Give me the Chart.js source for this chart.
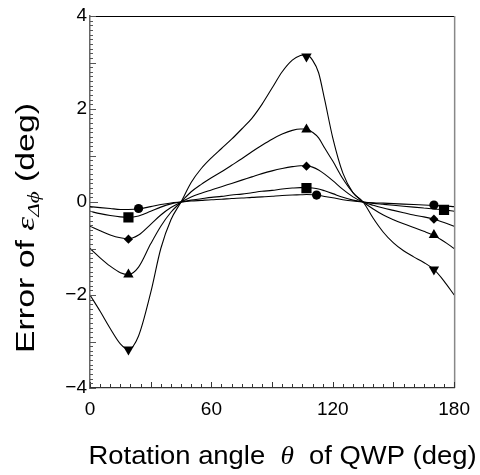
<!DOCTYPE html>
<html><head><meta charset="utf-8">
<script src="https://cdn.jsdelivr.net/npm/chart.js@4.4.1/dist/chart.umd.min.js"></script>
<style>html,body{margin:0;padding:0;background:#fff;}canvas{display:block;}</style>
</head><body>
<canvas id="c" width="480" height="475"></canvas>
<script>
// Rotation angle theta of QWP (deg)
const angles = [0,5,10,15,19,24,30,35,40,45,50,55,60,65,70,75,80,85,90,95,100,104,107,110,113,116,120,125,130,135,140,145,150,155,160,165,170,175,180];
// Error curves (deg)
const curveInvTri = [-2.0,-2.35,-2.72,-3.05,-3.17,-2.88,-1.95,-1.0,-0.38,0,0.42,0.72,0.95,1.15,1.35,1.57,1.8,2.1,2.45,2.8,3.05,3.15,3.17,3.05,2.78,2.2,1.38,0.62,0.2,0,-0.35,-0.65,-0.88,-1.05,-1.18,-1.3,-1.45,-1.7,-2.0];
const curveTri    = [-1.0,-1.2,-1.38,-1.52,-1.56,-1.4,-0.9,-0.52,-0.22,0,0.22,0.38,0.52,0.65,0.79,0.93,1.08,1.22,1.35,1.46,1.54,1.57,1.57,1.5,1.38,1.16,0.88,0.5,0.2,0,-0.15,-0.28,-0.38,-0.47,-0.55,-0.63,-0.72,-0.85,-1.0];
const curveDiamond= [-0.52,-0.62,-0.71,-0.77,-0.79,-0.71,-0.48,-0.28,-0.12,0,0.11,0.19,0.26,0.33,0.4,0.47,0.54,0.61,0.67,0.72,0.76,0.78,0.78,0.75,0.69,0.6,0.46,0.27,0.11,0,-0.07,-0.13,-0.18,-0.23,-0.28,-0.32,-0.37,-0.44,-0.52];
const curveSquare = [-0.2,-0.25,-0.29,-0.32,-0.33,-0.3,-0.2,-0.11,-0.04,0,0.04,0.07,0.1,0.12,0.15,0.17,0.2,0.23,0.25,0.28,0.3,0.31,0.31,0.3,0.28,0.24,0.18,0.1,0.04,0,-0.03,-0.05,-0.07,-0.09,-0.11,-0.13,-0.15,-0.17,-0.2];
const curveCircle = [-0.1,-0.12,-0.14,-0.16,-0.16,-0.15,-0.1,-0.055,-0.02,0,0.02,0.035,0.05,0.06,0.075,0.085,0.1,0.11,0.125,0.14,0.15,0.155,0.16,0.155,0.14,0.12,0.09,0.05,0.02,0,-0.015,-0.025,-0.035,-0.045,-0.055,-0.065,-0.075,-0.085,-0.1];
// Marker positions
const markAngles      = [19,107,170];
const invTriMarks     = [-3.17,3.13,-1.45];
const triMarks        = [-1.56,1.56,-0.71];
const diamondMarks    = [-0.8,0.77,-0.37];
const squareMarkAngles= [19,107,175];
const squareMarks     = [-0.33,0.3,-0.17];
const circleMarkAngles= [24,112,170];
const circleMarks     = [-0.14,0.15,-0.065];
// Tick labels
const xTickLabels = [0,60,120,180];
const yTickLabels = [-4,-2,0,2,4];

function pts(xs, ys){ return xs.map((x,i)=>({x:x, y:ys[i]})); }
function lineDs(ys){ return {type:'line', data:pts(angles, ys), borderColor:'#000', borderWidth:1.1, pointRadius:0, cubicInterpolationMode:'monotone', fill:false, order:2}; }
function markDs(xs, ys, style, r, rot){ return {type:'scatter', data:pts(xs, ys), pointStyle:style, pointRadius:r, pointHoverRadius:r, pointRotation:rot||0, backgroundColor:'#000', borderColor:'#000', borderWidth:0, showLine:false, order:0}; }

const SANS = '"Liberation Sans", Arial, sans-serif';
const SERIF = '"Liberation Serif", "DejaVu Serif", serif';

// draws mixed-style text centred on (0,0) of current transform, stretched to a target length
function drawSegments(ctx, segs, targetLen){
  let w = 0;
  segs.forEach(s=>{ ctx.font = s.f; s.w = ctx.measureText(s.t).width; w += s.w; });
  const k = targetLen / w;
  ctx.scale(k, 1);
  let cx = -w/2;
  segs.forEach(s=>{ ctx.font = s.f; ctx.fillText(s.t, cx, (s.dy||0)); cx += s.w; });
}

const decor = {
  id:'decor',
  afterDraw(chart){
    const ctx = chart.ctx, a = chart.chartArea, xs = chart.scales.x, ys = chart.scales.y;
    ctx.save();
    // frame top and right
    ctx.strokeStyle = '#000'; ctx.lineWidth = 1.2;
    ctx.beginPath(); ctx.moveTo(a.left, a.top+0.5); ctx.lineTo(a.right, a.top+0.5); ctx.stroke();
    ctx.strokeStyle = '#888'; ctx.lineWidth = 1.5;
    ctx.beginPath(); ctx.moveTo(a.right+0.5, a.top); ctx.lineTo(a.right+0.5, a.bottom); ctx.stroke();
    // x ticks (inward)
    ctx.strokeStyle = '#333'; ctx.lineWidth = 1;
    for (let v=0; v<=180; v+=5){
      const px = Math.round(xs.getPixelForValue(v)) + 0.5;
      const len = (v % 30 === 0) ? 6 : 4;
      ctx.beginPath(); ctx.moveTo(px, a.bottom); ctx.lineTo(px, a.bottom - len); ctx.stroke();
    }
    // y ticks (inward)
    ctx.strokeStyle = '#555';
    for (let i=-40; i<=40; i++){
      const py = Math.round(ys.getPixelForValue(i/10)) + 0.5;
      const len = i === 0 ? 8 : (i % 10 === 0 ? 6 : 3);
      ctx.beginPath(); ctx.moveTo(a.left, py); ctx.lineTo(a.left + len, py); ctx.stroke();
    }
    // axis titles
    ctx.fillStyle = '#000'; ctx.textBaseline = 'alphabetic';
    ctx.save();
    ctx.translate(282.5, 464);
    drawSegments(ctx, [
      {t:'Rotation angle  ', f:'25px '+SANS},
      {t:'\u03b8', f:'italic 25px '+SERIF},
      {t:'  of QWP (deg)', f:'25px '+SANS}
    ], 388);
    ctx.restore();
    ctx.save();
    ctx.translate(34, 228); ctx.rotate(-Math.PI/2);
    drawSegments(ctx, [
      {t:'Error of ', f:'25px '+SANS},
      {t:'\u03b5', f:'italic 26px '+SERIF},
      {t:'\u0394\u03d5', f:'italic 17px '+SERIF, dy:5},
      {t:' (deg)', f:'25px '+SANS}
    ], 250);
    ctx.restore();
    ctx.restore();
  }
};

new Chart(document.getElementById('c'), {
  data:{ datasets:[
    lineDs(curveInvTri), lineDs(curveTri), lineDs(curveDiamond), lineDs(curveSquare), lineDs(curveCircle),
    markDs(markAngles, invTriMarks, 'triangle', 6, 180),
    markDs(markAngles, triMarks, 'triangle', 6, 0),
    markDs(markAngles, diamondMarks, 'rectRot', 4.6, 0),
    markDs(squareMarkAngles, squareMarks, 'rect', 7.2, 0),
    markDs(circleMarkAngles, circleMarks, 'circle', 4.6, 0)
  ]},
  options:{
    responsive:false, animation:false, devicePixelRatio:1,
    layout:{padding:{top:16, right:18, left:0, bottom:0}},
    plugins:{legend:{display:false}, tooltip:{enabled:false}},
    events:[],
    scales:{
      x:{type:'linear', position:'bottom', min:0, max:180,
        afterFit(s){ s.height = 87; },
        afterBuildTicks(s){ s.ticks = xTickLabels.map(v=>({value:v})); },
        ticks:{font:{family:SANS, size:19}, color:'#000', padding:10, maxRotation:0, callback:v=>String(v)},
        grid:{display:false, drawTicks:false},
        border:{display:true, color:'#333', width:1.2}
      },
      y:{type:'linear', position:'left', min:-4, max:4,
        afterFit(s){ s.width = 90; },
        afterBuildTicks(s){ s.ticks = yTickLabels.map(v=>({value:v})); },
        ticks:{font:{family:SANS, size:19}, color:'#000', padding:3, callback:v=>(v<0?'\u2212'+Math.abs(v):String(v))},
        grid:{display:false, drawTicks:false},
        border:{display:true, color:'#666', width:1.5}
      }
    }
  },
  plugins:[decor]
});
</script>
</body></html>
